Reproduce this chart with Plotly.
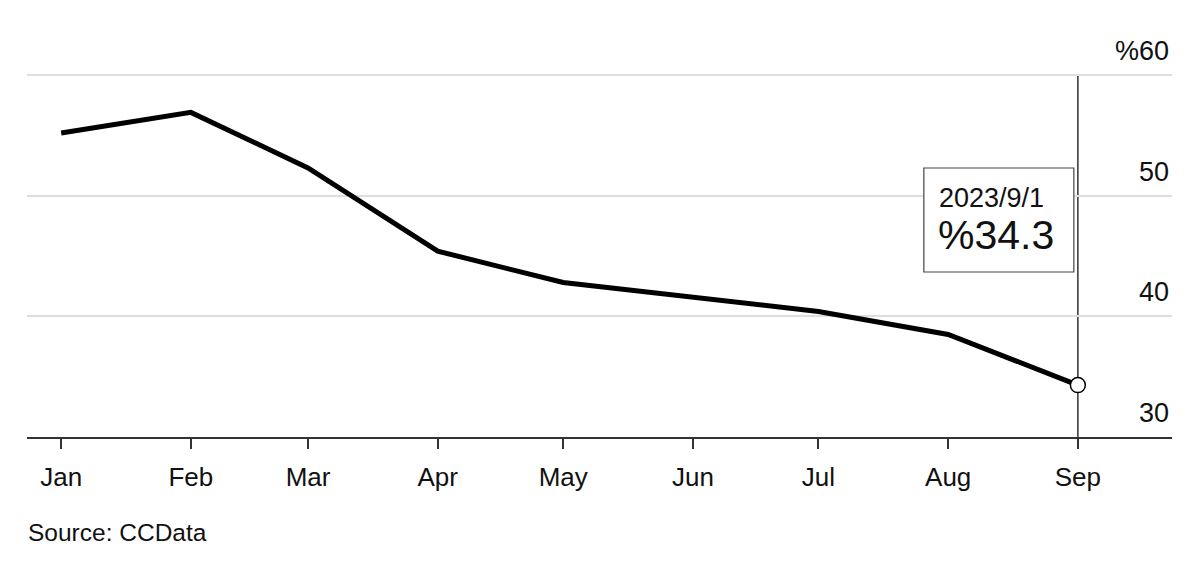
import plotly.graph_objects as go

# ---- data ----
dates = ["2023-01-01", "2023-02-01", "2023-03-01", "2023-04-01", "2023-05-01",
         "2023-06-01", "2023-07-01", "2023-08-01", "2023-09-01"]
month_labels = ["Jan", "Feb", "Mar", "Apr", "May", "Jun", "Jul", "Aug", "Sep"]
share = [55.2, 56.9, 52.3, 45.4, 42.8, 41.6, 40.4, 38.5, 34.3]
y_ticks = [30, 40, 50, 60]
y_tick_labels = ["30", "40", "50", "%60"]
callout_date = "2023/9/1"
callout_value = "%34.3"
source_text = "Source: CCData"

FONT = "Liberation Sans, Arial, Helvetica, sans-serif"
W, H = 1200, 563
M_L, M_R, M_T, M_B = 27, 28, 70, 126
plot_h = H - M_T - M_B

def py(pixel_y):
    return (H - M_B - pixel_y) / plot_h

fig = go.Figure()
fig.add_trace(go.Scatter(
    x=dates, y=share, mode="lines",
    line=dict(color="#000000", width=5, shape="linear"),
    hoverinfo="skip", showlegend=False,
))
fig.add_trace(go.Scatter(
    x=[dates[-1]], y=[share[-1]], mode="markers",
    marker=dict(size=15, color="#ffffff", line=dict(color="#000000", width=1.5)),
    hoverinfo="skip", showlegend=False,
))

shapes = [
    dict(type="line", xref="x", yref="y", x0=dates[-1], x1=dates[-1],
         y0=30, y1=60, line=dict(color="#333333", width=1.5), layer="below"),
    dict(type="rect", xref="x", xsizemode="pixel", xanchor=dates[-1],
         x0=-154, x1=-4, yref="paper", y0=py(272), y1=py(168),
         line=dict(color="#444444", width=1.2), fillcolor="#ffffff", layer="above"),
]

annotations = []
for v, lab in zip(y_ticks, y_tick_labels):
    annotations.append(dict(
        xref="paper", x=1, xanchor="right", xshift=-1,
        yref="y", y=v, yanchor="middle", yshift=24,
        text=lab, showarrow=False,
        font=dict(family=FONT, size=27, color="#111111"),
    ))
annotations.append(dict(
    xref="x", x=dates[-1], xanchor="left", xshift=-141,
    yref="paper", y=py(197.5), yanchor="middle",
    text=callout_date, showarrow=False,
    font=dict(family=FONT, size=27, color="#111111"),
))
annotations.append(dict(
    xref="x", x=dates[-1], xanchor="left", xshift=-142,
    yref="paper", y=py(234.5), yanchor="middle",
    text=callout_value, showarrow=False,
    font=dict(family=FONT, size=41, color="#111111"),
))
annotations.append(dict(
    xref="paper", x=0, xanchor="left", xshift=-1,
    yref="paper", y=py(532), yanchor="middle",
    text=source_text, showarrow=False,
    font=dict(family=FONT, size=24.5, color="#111111"),
))

fig.update_layout(
    width=W, height=H,
    margin=dict(l=M_L, r=M_R, t=M_T, b=M_B),
    paper_bgcolor="#ffffff", plot_bgcolor="#ffffff",
    showlegend=False,
    shapes=shapes, annotations=annotations,
    xaxis=dict(
        type="date", range=["2022-12-23 20:00", "2023-09-23 12:00"],
        tickvals=dates, ticktext=month_labels,
        ticks="outside", ticklen=10, tickwidth=2, tickcolor="#333333",
        showline=True, linecolor="#333333", linewidth=2,
        showgrid=False, zeroline=False, ticklabelstandoff=6,
        tickfont=dict(family=FONT, size=26, color="#111111"),
    ),
    yaxis=dict(
        range=[30, 60.414], tickvals=y_ticks,
        showticklabels=False, ticks="",
        showgrid=True, gridcolor="#dedede", gridwidth=2,
        zeroline=False, showline=False,
    ),
)

fig.write_html("out.html", config={"displayModeBar": False},
               post_script="document.body.style.margin='0';")
